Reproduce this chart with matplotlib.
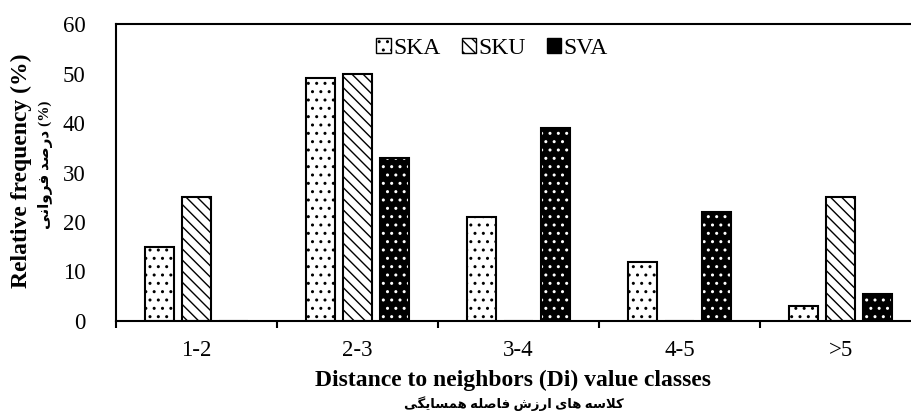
import matplotlib
matplotlib.use("Agg")
import matplotlib.pyplot as plt
import numpy as np
from matplotlib.patches import Patch

categories = ["1-2", "2-3", "3-4", "4-5", ">5"]
ska = [15, 49, 21, 12, 3]
sku = [25, 50, 0, 0, 25]
sva = [0, 33, 39, 22, 5.5]

yticks = [0, 10, 20, 30, 40, 50, 60]
xlabel_en = "Distance to neighbors (Di) value classes"
xlabel_fa = "کلاسه های ارزش فاصله همسایگی"
ylabel_en = "Relative frequency (%)"
ylabel_fa = "درصد فروانی"

# poor man's Arabic shaping: (isolated, final, initial, medial)
FORMS = {
    "ا": ("\uFE8D", "\uFE8E", None, None),
    "د": ("\uFEA9", "\uFEAA", None, None),
    "ر": ("\uFEAD", "\uFEAE", None, None),
    "ز": ("\uFEAF", "\uFEB0", None, None),
    "و": ("\uFEED", "\uFEEE", None, None),
    "ص": ("\uFEB9", "\uFEBA", "\uFEBB", "\uFEBC"),
    "ف": ("\uFED1", "\uFED2", "\uFED3", "\uFED4"),
    "ن": ("\uFEE5", "\uFEE6", "\uFEE7", "\uFEE8"),
    "ل": ("\uFEDD", "\uFEDE", "\uFEDF", "\uFEE0"),
    "ه": ("\uFEE9", "\uFEEA", "\uFEEB", "\uFEEC"),
    "ش": ("\uFEB5", "\uFEB6", "\uFEB7", "\uFEB8"),
    "س": ("\uFEB1", "\uFEB2", "\uFEB3", "\uFEB4"),
    "م": ("\uFEE1", "\uFEE2", "\uFEE3", "\uFEE4"),
    "ی": ("\uFBFC", "\uFBFD", "\uFBFE", "\uFBFF"),
    "ک": ("\uFB8E", "\uFB8F", "\uFB90", "\uFB91"),
    "گ": ("\uFB92", "\uFB93", "\uFB94", "\uFB95"),
}


def shape_word(word):
    out = []
    i = 0
    prev_joins = False
    while i < len(word):
        ch = word[i]
        nxt = word[i + 1] if i + 1 < len(word) else None
        if ch == "ل" and nxt == "ا":
            out.append("\uFEFC" if prev_joins else "\uFEFB")
            prev_joins = False
            i += 2
            continue
        iso, fin, ini, med = FORMS[ch]
        joins_next = ini is not None and nxt in FORMS
        if prev_joins and joins_next:
            out.append(med)
        elif prev_joins:
            out.append(fin)
        elif joins_next:
            out.append(ini)
        else:
            out.append(iso)
        prev_joins = joins_next
        i += 1
    return "".join(reversed(out))


def visual(text):
    return " ".join(shape_word(w) for w in reversed(text.split()))


SERIF = "Liberation Serif"
FA = [SERIF, "DejaVu Sans"]

fig = plt.figure(figsize=(9.12, 4.19), dpi=100)
ax = fig.add_axes([0.1272, 0.2339, 0.8827, 0.7088])

x = np.arange(len(categories))
w = 0.18
off = 0.23
lw = 1.5

ax.bar(x - off, ska, w, facecolor="white", edgecolor="black", linewidth=lw, hatch="..")
ax.bar(x, sku, w, facecolor="white", edgecolor="black", linewidth=lw, hatch="\\\\\\")
ax.bar(x + off, sva, w, facecolor="black", edgecolor="white", linewidth=0, hatch="..")
ax.bar(x + off, sva, w, fill=False, edgecolor="black", linewidth=lw)

ax.set_xlim(-0.5, len(categories) - 0.5)
ax.set_ylim(0, 60)
ax.set_yticks(yticks)
ax.set_yticklabels([str(t) for t in yticks], fontsize=16.5, fontfamily=SERIF)
ax.tick_params(axis="y", length=0, pad=22)

ax.set_xticks(x)
ax.set_xticklabels(categories, fontsize=16.5, fontfamily=SERIF)
ax.tick_params(axis="x", which="major", length=0, pad=14)
ax.set_xticks(np.arange(-0.5, len(categories)), minor=True)
ax.tick_params(axis="x", which="minor", length=5, width=1.5, direction="out")

for s in ax.spines.values():
    s.set_linewidth(1.5)

handles = [
    Patch(facecolor="white", edgecolor="black", hatch="..", label="SKA"),
    Patch(facecolor="white", edgecolor="black", hatch="\\\\\\", label="SKU"),
    Patch(facecolor="black", edgecolor="black", label="SVA"),
]
ax.legend(handles=handles, loc="center", bbox_to_anchor=(0.467, 0.919), ncol=3,
          frameon=False, prop={"family": SERIF, "size": 17},
          handlelength=0.6, handleheight=0.6, handletextpad=0.1,
          columnspacing=0.9, borderaxespad=0)

fig.text(0.563, 0.091, xlabel_en, ha="center", va="center",
         fontsize=17, fontweight="bold", fontfamily=SERIF)
fig.text(0.563, 0.036, visual(xlabel_fa), ha="center", va="center",
         fontsize=9.5, fontweight="bold", family=FA)
fig.text(0.024, 0.592, ylabel_en, ha="center", va="center", rotation=90,
         fontsize=17, fontweight="bold", fontfamily=SERIF)
fig.text(0.05, 0.606, visual(ylabel_fa) + " (%)", ha="center", va="center", rotation=90,
         fontsize=11, fontweight="bold", family=FA)

fig.savefig("out.png", dpi=100)
